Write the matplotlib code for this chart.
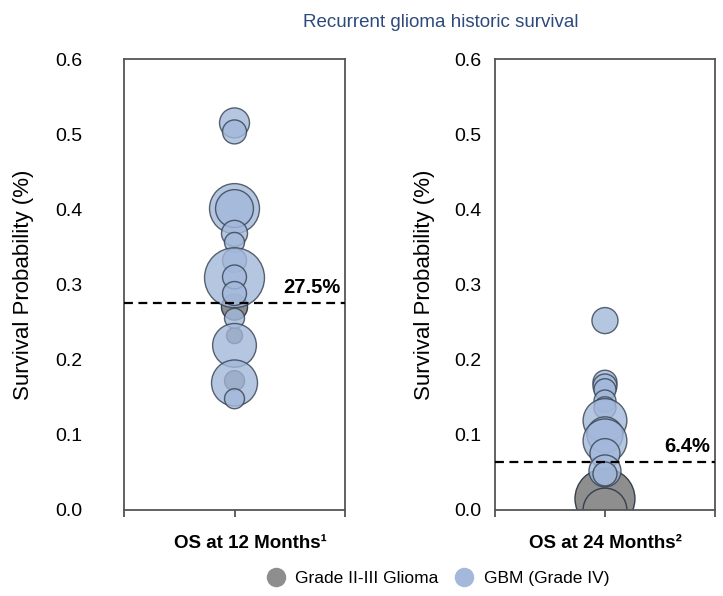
import matplotlib.pyplot as plt

plt.rcParams['font.family'] = ['Liberation Sans', 'DejaVu Sans']

# OS at 12 months: survival value, bubble size (cohort weight)
gbm_12 = [0.515, 0.503, 0.401, 0.401, 0.368, 0.356, 0.332, 0.309, 0.310,
          0.288, 0.255, 0.219, 0.169, 0.148]
gbm_12_n = [225, 144, 625, 360, 170, 100, 144, 900, 144, 144, 100, 480, 530, 100]
low_12 = [0.270, 0.232, 0.172]
low_12_n = [170, 64, 100]
median_12 = 0.275

# OS at 24 months
gbm_24 = [0.252, 0.170, 0.165, 0.160, 0.145, 0.136, 0.119, 0.100, 0.092,
          0.075, 0.052, 0.048]
gbm_24_n = [170, 144, 144, 121, 121, 121, 480, 324, 480, 225, 256, 144]
low_24 = [0.015, 0.0]
low_24_n = [900, 480]
median_24 = 0.064

panels = [
    ('OS at 12 Months¹', gbm_12, gbm_12_n, low_12, low_12_n, median_12, '27.5%'),
    ('OS at 24 Months²', gbm_24, gbm_24_n, low_24, low_24_n, median_24, '6.4%'),
]
# layout per panel: ylabel x, xlabel x, tick label pad
layout = [(-0.406, 0.57, 30), (-0.273, 0.5, 10)]

blue = '#a3b8da'
gray = '#8e8e8e'
edge = '#34404f'

fig = plt.figure(figsize=(7.23, 5.96), dpi=100)
ax_12 = fig.add_axes([0.1715, 0.1443, 0.3057, 0.7567])
ax_24 = fig.add_axes([0.6846, 0.1443, 0.3043, 0.7567])

for ax, (xlabel, gbm, gbm_n, low, low_n, med, med_label), (ylab_x, xlab_x, pad) in zip(
        [ax_12, ax_24], panels, layout):
    ax.scatter([0] * len(low), low, s=[n * 2.07 for n in low_n], color=gray,
               edgecolor=edge, linewidth=1, zorder=2)
    ax.scatter([0] * len(gbm), gbm, s=[n * 2.07 for n in gbm_n], color=blue,
               edgecolor=edge, linewidth=1, alpha=0.8, zorder=3)
    ax.axhline(med, color='black', linestyle=(0, (4, 2.5)), linewidth=1.6, zorder=4)
    ax.text(0.98, med + 0.008, med_label, transform=ax.get_yaxis_transform(),
            ha='right', va='bottom', fontsize=14.5, fontweight='bold')
    ax.set_xlim(-1, 1)
    ax.set_ylim(0, 0.6)
    ax.set_xticks([-1, 0, 1])
    ax.set_xticklabels([])
    ax.tick_params(axis='x', direction='out', length=5, width=1.2, color='#444444')
    ax.tick_params(axis='y', length=0, labelsize=14, pad=pad)
    ax.set_yticks([0.0, 0.1, 0.2, 0.3, 0.4, 0.5, 0.6])
    ax.set_yticklabels(['0.0', '0.1', '0.2', '0.3', '0.4', '0.5', '0.6'])
    ax.set_xlabel(xlabel, fontsize=13.5, fontweight='bold')
    ax.xaxis.set_label_coords(xlab_x, -0.055)
    ax.set_ylabel('Survival Probability (%)', fontsize=16)
    ax.yaxis.set_label_coords(ylab_x, 0.5)
    for sp in ax.spines.values():
        sp.set_color('#555555')
        sp.set_linewidth(1.3)

fig.text(0.61, 0.962, 'Recurrent glioma historic survival', ha='center', va='center',
         fontsize=13.5, color='#2e4a7d')

h_low = plt.Line2D([], [], marker='o', linestyle='', markersize=13, color=gray)
h_gbm = plt.Line2D([], [], marker='o', linestyle='', markersize=13, color=blue)
fig.legend([h_low, h_gbm], ['Grade II-III Glioma', 'GBM (Grade IV)'], loc='center',
           bbox_to_anchor=(0.60, 0.03), ncol=2, frameon=False, fontsize=12.5,
           handletextpad=0.1, columnspacing=0.5)

fig.savefig('out.png', dpi=100)
